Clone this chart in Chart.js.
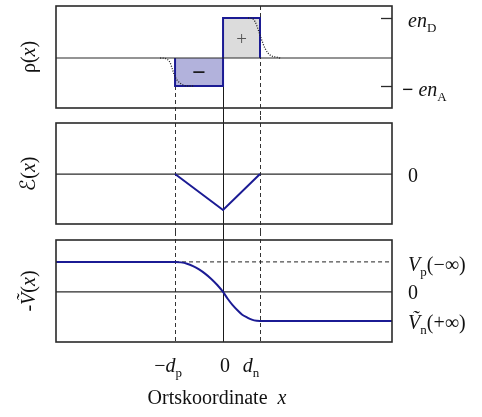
<!DOCTYPE html>
<html>
<head>
<meta charset="utf-8">
<script src="https://cdn.jsdelivr.net/npm/chart.js@4.4.0/dist/chart.umd.min.js"></script>
<style>
body { margin: 0; background: #fff; }
#wrap { position: relative; width: 482px; height: 417px; font-family: "Liberation Serif", "Times New Roman", serif; color: #111; }
canvas { position: absolute; left: 0; }
.lbl { position: absolute; font-size: 20px; line-height: 1; white-space: nowrap; }
.lbl sub { font-size: 13px; vertical-align: baseline; position: relative; top: 5px; font-style: normal; }
.lbl i { font-style: italic; }
.script { font-family: "DejaVu Serif", "DejaVu Sans", serif; font-size: 21px; }
</style>
</head>
<body>
<div id="wrap">
  <canvas id="rho_canvas" width="482" height="116" style="top:0px"></canvas>
  <canvas id="field_canvas" width="482" height="116" style="top:116px"></canvas>
  <canvas id="pot_canvas" width="482" height="185" style="top:232px"></canvas>
</div>
<script>
// x: position in units of d_p
const xRange = [-3.48, 3.52];
const dp = 1;
const dn = 0.77;

// charge density (units of en_D)
const rhoRange = [-1.25, 1.3];
const nD = 1;
const nA = 0.7;
const smoothPX = [-1.31, -1.21, -1.10, -1.05, -1.0, -0.93, -0.83, -0.73, -0.6];
const smoothPY = [0, -0.01, -0.125, -0.3, -0.47, -0.59, -0.675, -0.7, -0.7];
const smoothNX = [0.52, 0.6, 0.667, 0.735, 0.806, 0.875, 0.98, 1.12, 1.19];
const smoothNY = [1, 0.99, 0.91, 0.7, 0.45, 0.24, 0.075, 0.02, 0];

// electric field
const fieldRange = [-1.39, 1.42];
const fieldX = [-1, 0, 0.77];
const fieldY = [0, -1, 0];

// potential
const potRange = [-1.67, 1.73];
const Vp = 1;
const Vn = -0.967;
const potX = [-3.48, -1, -0.875, -0.75, -0.625, -0.5, -0.375, -0.25, -0.12, 0, 0.1, 0.2, 0.3, 0.4, 0.5, 0.6, 0.7, 0.77, 3.52];
const potY = [1, 1, 0.984, 0.94, 0.86, 0.75, 0.61, 0.44, 0.23, 0, -0.236, -0.44, -0.61, -0.76, -0.851, -0.925, -0.962, -0.967, -0.967];

const blue = '#1b1b94';
const pts = (xs, ys) => xs.map((x, i) => ({ x: x, y: ys[i] }));
const zeroLine = { data: pts(xRange, [0, 0]), borderColor: '#2a2a2a', borderWidth: 1.2, order: 5 };

const guides = {
    id: 'guides',
    beforeDatasetsDraw(chart, args, opts) {
        const { ctx, chartArea: a, scales: { x, y } } = chart;
        ctx.save();
        (opts.lines || []).forEach(l => {
            const px = Math.round(x.getPixelForValue(l.x)) + 0.5;
            const y0 = l.from == null ? 0 : l.from === 'area' ? a.top : y.getPixelForValue(l.from);
            const y1 = l.to == null ? chart.height : l.to === 'area' ? a.bottom : y.getPixelForValue(l.to);
            ctx.setLineDash(l.dash || []);
            ctx.strokeStyle = l.dash ? '#333' : '#1a1a1a';
            ctx.lineWidth = 1;
            ctx.beginPath();
            ctx.moveTo(px, y0);
            ctx.lineTo(px, y1);
            ctx.stroke();
        });
        ctx.restore();
    },
    afterDatasetsDraw(chart, args, opts) {
        const { ctx, chartArea: a, scales: { y } } = chart;
        ctx.save();
        ctx.strokeStyle = '#2a2a2a';
        ctx.lineWidth = 1.6;
        ctx.strokeRect(a.left, a.top, a.right - a.left, a.bottom - a.top);
        ctx.lineWidth = 1.3;
        (opts.ticks || []).forEach(v => {
            const py = Math.round(y.getPixelForValue(v)) + 0.5;
            ctx.beginPath();
            ctx.moveTo(a.right - 11, py);
            ctx.lineTo(a.right, py);
            ctx.stroke();
        });
        ctx.restore();
    }
};
Chart.register(guides);

function options(yRange, pad, guideOpts) {
    return {
        responsive: false,
        animation: false,
        events: [],
        layout: { padding: { left: 56, right: 90, top: pad[0], bottom: pad[1] } },
        elements: { point: { radius: 0 }, line: { tension: 0 } },
        plugins: { legend: { display: false }, tooltip: { enabled: false }, guides: guideOpts },
        scales: {
            x: { type: 'linear', min: xRange[0], max: xRange[1], display: false },
            y: { type: 'linear', min: yRange[0], max: yRange[1], display: false }
        }
    };
}

const rho = new Chart(document.getElementById('rho_canvas'), {
    type: 'line',
    data: {
        datasets: [
            { data: pts(smoothNX, smoothNY), borderColor: '#222', borderWidth: 1.3, borderDash: [1, 1.5], cubicInterpolationMode: 'monotone', order: 0 },
            { data: pts(smoothPX, smoothPY), borderColor: '#222', borderWidth: 1.3, borderDash: [1, 1.5], cubicInterpolationMode: 'monotone', order: 1 },
            { data: pts([0, 0, dn, dn], [0, nD, nD, 0]), borderColor: blue, borderWidth: 2, fill: 'origin', backgroundColor: '#dcdcdc', order: 3 },
            { data: pts([-dp, -dp, 0, 0], [0, -nA, -nA, 0]), borderColor: blue, borderWidth: 2, fill: 'origin', backgroundColor: '#b2b2dc', order: 4 },
            Object.assign({}, zeroLine, { order: 2 })
        ]
    },
    options: options(rhoRange, [6, 8], {
        lines: [
            { x: -dp, from: 0, dash: [4, 3] },
            { x: 0, from: nD },
            { x: dn, from: 'area', dash: [4, 3] }
        ],
        ticks: [nD, -nA]
    })
});

const field = new Chart(document.getElementById('field_canvas'), {
    type: 'line',
    data: {
        datasets: [
            { data: pts(fieldX, fieldY), borderColor: blue, borderWidth: 2, order: 0 },
            zeroLine
        ]
    },
    options: options(fieldRange, [7, 8], {
        lines: [
            { x: -dp, dash: [4, 3] },
            { x: 0 },
            { x: dn, dash: [4, 3] }
        ]
    })
});

const pot = new Chart(document.getElementById('pot_canvas'), {
    type: 'line',
    data: {
        datasets: [
            { data: pts(potX, potY), borderColor: blue, borderWidth: 2, cubicInterpolationMode: 'monotone', order: 0 },
            { data: pts([-dp, xRange[1]], [Vp, Vp]), borderColor: '#222', borderWidth: 1, borderDash: [4, 3], order: 1 },
            zeroLine
        ]
    },
    options: options(potRange, [8, 75], {
        lines: [
            { x: -dp, to: 'area', dash: [4, 3] },
            { x: 0, to: 'area' },
            { x: dn, to: 'area', dash: [4, 3] }
        ]
    })
});

// text labels placed from the chart scales
const wrap = document.getElementById('wrap');
function label(html, left, top, transform, style) {
    const d = document.createElement('div');
    d.className = 'lbl';
    d.innerHTML = html;
    d.style.left = left + 'px';
    d.style.top = top + 'px';
    d.style.transform = transform;
    if (style) Object.assign(d.style, style);
    wrap.appendChild(d);
}
function rightLabel(chart, top0, v, html, dx, dy) {
    label(html, chart.chartArea.right + dx, top0 + chart.scales.y.getPixelForValue(v) + dy, 'translateY(-50%)');
}
function yTitle(chart, top0, html) {
    const a = chart.chartArea;
    label(html, 28, top0 + (a.top + a.bottom) / 2, 'translate(-50%,-50%) rotate(-90deg)');
}

rightLabel(rho, 0, nD, '<i>en</i><sub>D</sub>', 16, 2);
rightLabel(rho, 0, -nA, '<b>&minus;</b> <i>en</i><sub>A</sub>', 10, 3);
rightLabel(field, 116, 0, '0', 16, 1);
rightLabel(pot, 232, Vp, '<i>V</i><sub>p</sub>(&minus;&infin;)', 16, 2);
rightLabel(pot, 232, 0, '0', 16, 0);
rightLabel(pot, 232, Vn, '<i>&#7804;</i><sub>n</sub>(+&infin;)', 16, 1);

yTitle(rho, 0, '&rho;(<i>x</i>)');
yTitle(field, 116, '<span class="script">&#8496;</span>(<i>x</i>)');
yTitle(pot, 232, '-<i>&#7804;</i>(<i>x</i>)');

// signs inside the charge boxes
label('+', rho.scales.x.getPixelForValue(dn / 2), rho.scales.y.getPixelForValue(nD / 2), 'translate(-50%,-50%)', { color: '#555', fontSize: '19px' });
label('<b>&minus;</b>', rho.scales.x.getPixelForValue(-dp / 2), rho.scales.y.getPixelForValue(-nA / 2), 'translate(-50%,-50%)', { fontSize: '24px' });

// x tick labels
const xs = pot.scales.x;
const tickTop = 232 + pot.chartArea.bottom + 23;
label('&minus;<i>d</i><sub>p</sub>', xs.getPixelForValue(-dp) - 7, tickTop, 'translate(-50%,-50%)');
label('0', xs.getPixelForValue(0) + 2, tickTop, 'translate(-50%,-50%)');
label('<i>d</i><sub>n</sub>', xs.getPixelForValue(dn) - 9, tickTop, 'translate(-50%,-50%)');
label('Ortskoordinate&nbsp; <i>x</i>', 217, 397, 'translate(-50%,-50%)');
</script>
</body>
</html>
